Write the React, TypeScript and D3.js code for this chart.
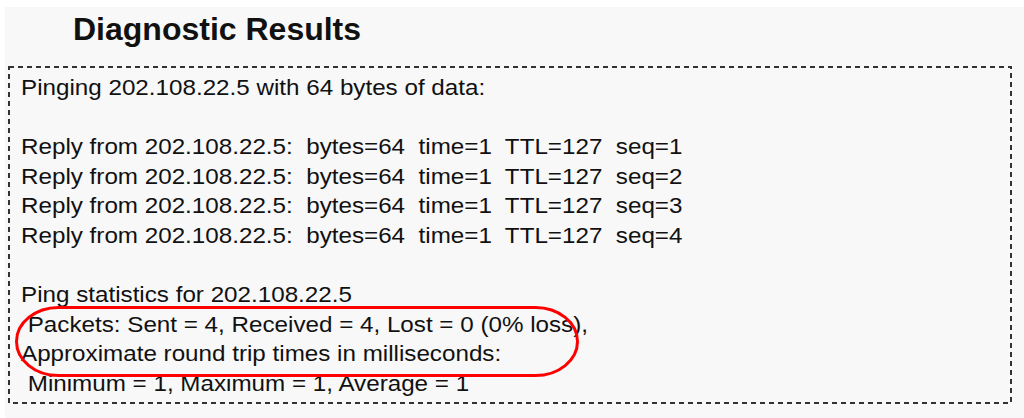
import { useEffect, useRef } from "react";
import * as d3 from "d3";

const title = "Diagnostic Results";
const targetHost = "202.108.22.5";
const packetBytes = 64;
const replySeqs = [1, 2, 3, 4];
const replyTimes = [1, 1, 1, 1];
const replyTtls = [127, 127, 127, 127];
const statSent = 4;
const statReceived = 4;
const statLost = 0;
const rttMin = 1;
const rttMax = 1;
const rttAvg = 1;

const W = 1024;
const H = 418;

const App = () => {
  const svgRef = useRef<SVGSVGElement>(null);

  useEffect(() => {
    if (!svgRef.current) return;
    const svg = d3.select(svgRef.current);
    svg.selectAll("*").remove();

    // page + panel background
    svg.append("rect").attr("width", W).attr("height", H).attr("fill", "#ffffff");
    svg
      .append("rect")
      .attr("x", 5)
      .attr("y", 7)
      .attr("width", W - 5)
      .attr("height", H - 7)
      .attr("fill", "#f8f8f8");

    svg
      .append("text")
      .attr("x", 73)
      .attr("y", 40)
      .attr("font-family", "'Liberation Sans', Arial, sans-serif")
      .attr("font-weight", "bold")
      .attr("font-size", 32)
      .attr("fill", "#111")
      .text(title);

    // dashed box
    svg
      .append("rect")
      .attr("x", 9)
      .attr("y", 67)
      .attr("width", 1002)
      .attr("height", 336)
      .attr("fill", "none")
      .attr("stroke", "#333")
      .attr("stroke-width", 2)
      .attr("stroke-dasharray", "5,4");

    const lines: string[] = [
      `Pinging ${targetHost} with ${packetBytes} bytes of data:`,
      "",
      ...replySeqs.map(
        (s, i) =>
          `Reply from ${targetHost}:  bytes=${packetBytes}  time=${replyTimes[i]}  TTL=${replyTtls[i]}  seq=${s}`
      ),
      "",
      `Ping statistics for ${targetHost}`,
      ` Packets: Sent = ${statSent}, Received = ${statReceived}, Lost = ${statLost} (${Math.round(
        (statLost / statSent) * 100
      )}% loss),`,
      "Approximate round trip times in milliseconds:",
      ` Minimum = ${rttMin}, Maximum = ${rttMax}, Average = ${rttAvg}`,
    ];

    const y = d3
      .scaleLinear()
      .domain([0, lines.length - 1])
      .range([95, 391]);

    const stretch = 1.1;
    const txt = svg
      .append("g")
      .selectAll("text")
      .data(lines)
      .join("text")
      .attr("x", 21)
      .attr("y", (_d, i) => y(i))
      .attr("font-family", "'Liberation Sans', Arial, sans-serif")
      .attr("font-size", 22)
      .attr("fill", "#111")
      .attr("xml:space", "preserve")
      .style("white-space", "pre")
      .text((d) => d);

    txt.each(function () {
      const el = this as SVGTextElement;
      const len = el.getComputedTextLength();
      if (len > 0) {
        el.setAttribute("textLength", String(len * stretch));
        el.setAttribute("lengthAdjust", "spacingAndGlyphs");
      }
    });

    // red highlight around packets / rtt lines
    svg
      .append("rect")
      .attr("x", 16.5)
      .attr("y", 307.5)
      .attr("width", 561)
      .attr("height", 68)
      .attr("rx", 42)
      .attr("ry", 34)
      .attr("fill", "none")
      .attr("stroke", "#ff0000")
      .attr("stroke-width", 3);
  }, []);

  return (
    <svg
      ref={svgRef}
      width={W}
      height={H}
      style={{ position: "absolute", left: 0, top: 0 }}
    ></svg>
  );
};

export default App;
